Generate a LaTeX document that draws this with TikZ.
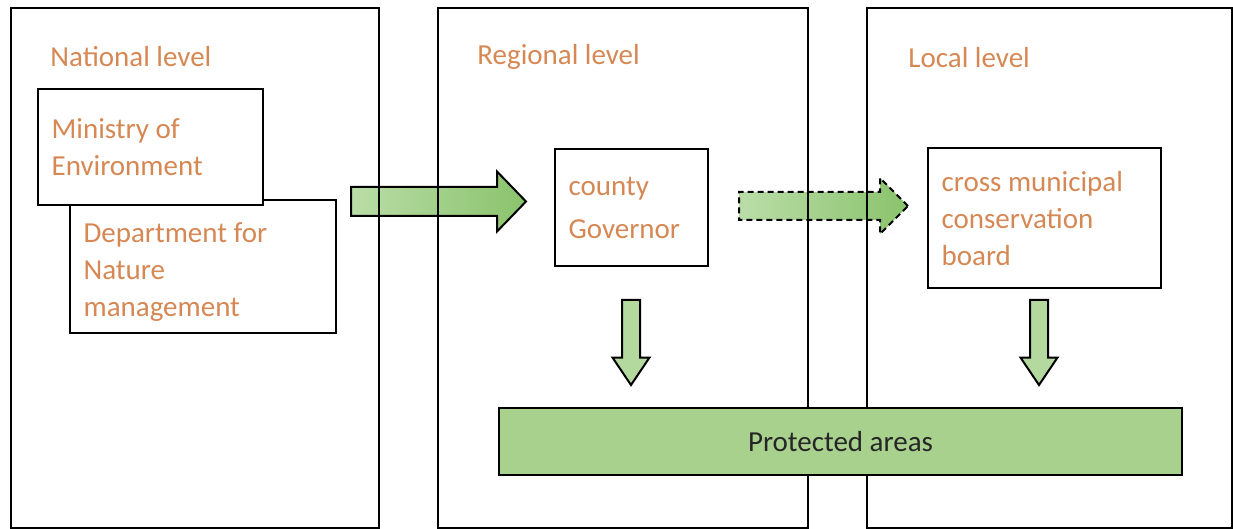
\documentclass[tikz,border=0pt]{standalone}
\usepackage{fontspec}
\setmainfont{Carlito}
\usepackage{xcolor}
\usetikzlibrary{shapes.arrows, positioning}

\definecolor{lvlorange}{RGB}{214,136,84}
\definecolor{areagreen}{RGB}{169,209,142}
\definecolor{arrowlight}{RGB}{186,221,168}
\definecolor{arrowdark}{RGB}{138,195,108}

\begin{document}
\begin{tikzpicture}[x=0.5pt, y=-0.5pt,
    every node/.style={font=\fontsize{14.5}{18.5}\selectfont},
    panel/.style={draw, line width=1pt, rectangle, anchor=north west, inner sep=0pt},
    title/.style={text=lvlorange, anchor=west, inner sep=0pt},
    orgbox/.style={draw, line width=1.1pt, fill=white, rectangle, text=lvlorange,
        anchor=north west, inner xsep=6.75pt, inner ysep=0pt,
        execute at begin node={\spaceskip=0pt\relax\xspaceskip=0pt\relax}},
    flowarrow/.style={single arrow, draw, line width=1pt, anchor=tail, inner xsep=0pt,
        minimum width=0pt, left color=arrowlight, right color=arrowdark},
    downarrow/.style={single arrow, draw, line width=1pt, anchor=tail, inner ysep=0pt,
        minimum width=0pt, fill=arrowlight!85!arrowdark, shape border rotate=270,
        inner xsep=4pt, single arrow head extend=4.75pt, single arrow tip angle=68,
        minimum height=42.5pt}]
    \useasboundingbox (0,0) rectangle (1233,529);

    % arrows between the levels (behind the panel frames)
    \node[flowarrow, inner ysep=6.75pt, single arrow head extend=7.75pt,
        single arrow tip angle=92, minimum height=87.5pt] (toregion) at (350,201.5) {};
    \node[flowarrow, dashed, dash pattern=on 3pt off 2pt, inner ysep=6.5pt,
        single arrow head extend=7pt, single arrow tip angle=90,
        minimum height=84.5pt] (tolocal) at (738,206) {};

    % the three levels
    \node[panel, minimum width=184pt, minimum height=260pt] (national) at (10,7) {};
    \node[panel, minimum width=185pt, minimum height=260pt] (regional) at (437,7) {};
    \node[panel, minimum width=182.5pt, minimum height=260pt] (local) at (866,7) {};
    \node[title] (nattitle) at (50,57) {National level};
    \node[title] (regtitle) at (477,57) {Regional level};
    \node[title] (loctitle) at (908,58) {Local level};

    % organisations
    \node[orgbox, text width=119.5pt, minimum height=66.5pt] (department) at (69,199)
        {\rule{0pt}{15pt}Department for\\Nature\\management};
    \node[orgbox, text width=99pt, minimum height=58pt] (ministry) at (37,88)
        {Ministry of\\Environment};
    \node[orgbox, text width=63pt, minimum height=58.5pt,
        font=\fontsize{14.5}{21.5}\selectfont] (governor) at (554,148) {county\\Governor};
    \node[orgbox, text width=103pt, minimum height=70pt] (board) at (927,147)
        {cross municipal\\conservation\\board};

    % management of the protected areas
    \node[downarrow] (govdown) at (631,299) {};
    \node[downarrow] (boarddown) at (1039,299) {};
    \draw[fill=areagreen, line width=1.1pt] (499,408) rectangle (1182,475)
        node[midway, text=black!85] (areas) {Protected areas};
\end{tikzpicture}
\end{document}
